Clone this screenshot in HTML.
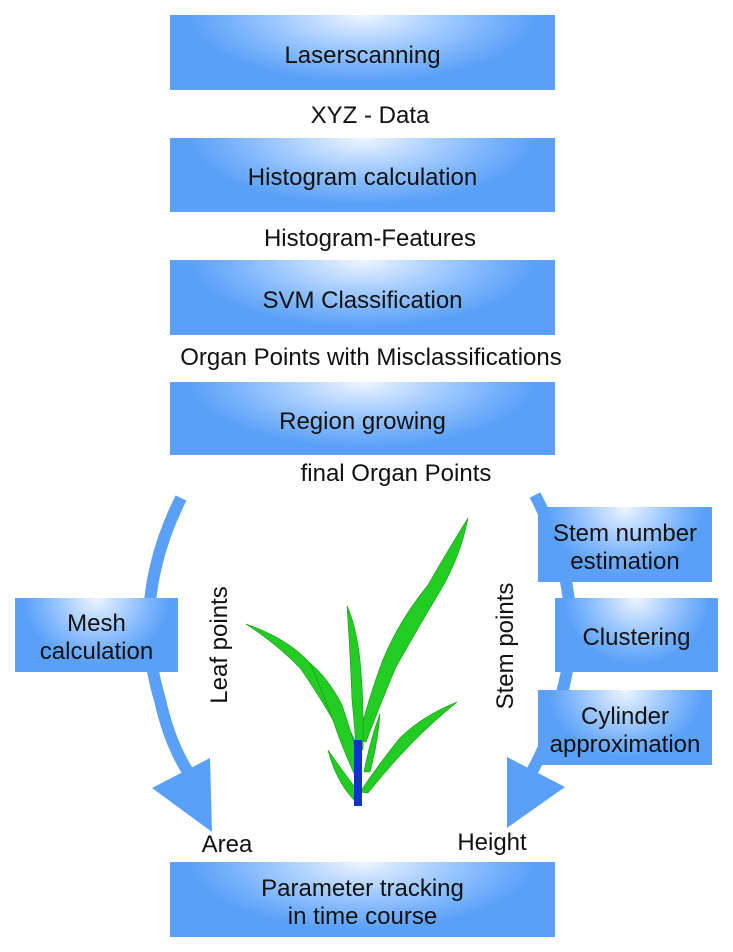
<!DOCTYPE html>
<html><head><style>
body{margin:0;width:733px;height:952px;background:#fff;position:relative;font-family:"Liberation Sans",sans-serif;overflow:hidden}
.b{position:absolute;box-sizing:border-box;padding-top:6px;background:radial-gradient(ellipse 45% 90% at 50% 0%,#eef5ff 0%,#a6cdff 45%,#7ab3fb 75%,#5aa0f8 100%);display:flex;align-items:center;justify-content:center;text-align:center;font-size:24px;color:#111;line-height:28px}
.t{position:absolute;font-size:24px;color:#111;white-space:nowrap;transform:translateX(-50%)}
.v{position:absolute;font-size:24px;color:#111;white-space:nowrap;transform:translate(-50%,-50%) rotate(-90deg)}
svg{position:absolute;left:0;top:0}
</style></head><body>
<svg width="733" height="952">
<path d="M181,498 Q130,600 160,700 Q170,745 190,775" fill="none" stroke="#5aa0f8" stroke-width="12"/>
<polygon points="152,788 210,758 212,832" fill="#5aa0f8"/>
<path d="M535,495 Q590,600 560,700 Q550,740 530,775" fill="none" stroke="#5aa0f8" stroke-width="12"/>
<polygon points="507,757 565,787 507,828" fill="#5aa0f8"/>
<g fill="#22cc22" stroke="#119911" stroke-width="0.6">
<path d="M468,518 Q445,555 428,585 Q398,622 382,662 Q368,700 358,740 L366,742 Q382,700 396,667 Q418,628 436,598 Q460,560 468,518Z"/>
<path d="M347,606 Q350,650 352,700 Q355,730 356,750 L363,750 Q364,700 360,660 Q356,625 347,606Z"/>
<path d="M246,624 Q278,645 300,668 Q328,708 356,762 L362,756 Q338,702 314,668 Q292,640 246,624Z"/>
<path d="M310,663 Q326,700 340,740 Q350,765 356,778 L362,774 Q354,740 342,705 Q328,678 310,663Z"/>
<path d="M457,702 Q422,716 400,738 Q378,765 360,792 L368,793 Q388,768 408,747 Q428,726 457,702Z"/>
<path d="M380,714 Q370,740 364,772 L370,772 Q378,742 380,714Z"/>
<path d="M328,750 Q336,782 356,802 L361,795 Q346,776 328,750Z"/>
</g>
<rect x="354" y="740" width="8" height="66" fill="#1133cc"/>
</svg>
<div class="b" style="left:170px;top:15px;width:385px;height:75px">Laserscanning</div>
<div class="t" style="left:370px;top:102px">XYZ - Data</div>
<div class="b" style="left:170px;top:138px;width:385px;height:74px">Histogram calculation</div>
<div class="t" style="left:370px;top:225px">Histogram-Features</div>
<div class="b" style="left:170px;top:260px;width:385px;height:75px">SVM Classification</div>
<div class="t" style="left:371px;top:344px">Organ Points with Misclassifications</div>
<div class="b" style="left:170px;top:382px;width:385px;height:73px">Region growing</div>
<div class="t" style="left:396px;top:460px">final Organ Points</div>
<div class="b" style="left:15px;top:598px;width:163px;height:74px">Mesh<br>calculation</div>
<div class="b" style="left:538px;top:507px;width:174px;height:75px">Stem number<br>estimation</div>
<div class="b" style="left:555px;top:598px;width:163px;height:74px">Clustering</div>
<div class="b" style="left:538px;top:690px;width:174px;height:75px">Cylinder<br>approximation</div>
<div class="v" style="left:220px;top:645px">Leaf points</div>
<div class="v" style="left:506px;top:646px">Stem points</div>
<div class="t" style="left:227px;top:831px">Area</div>
<div class="t" style="left:492px;top:829px">Height</div>
<div class="b" style="left:170px;top:862px;width:385px;height:75px">Parameter tracking<br>in time course</div>
</body></html>
